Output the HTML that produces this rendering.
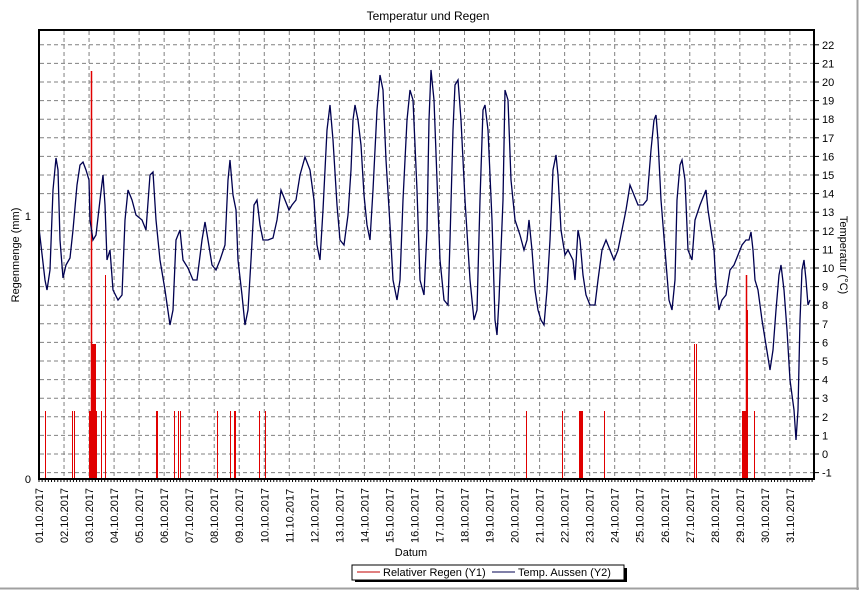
<!DOCTYPE html>
<html><head><meta charset="utf-8"><style>
body{margin:0;background:#fff;}
svg{display:block;font-family:"Liberation Sans",sans-serif;}
</style></head><body>
<svg width="859" height="590" viewBox="0 0 859 590" xmlns="http://www.w3.org/2000/svg">
<rect x="0" y="0" width="859" height="590" fill="#fff"/>
<line x1="0" y1="588.5" x2="859" y2="588.5" stroke="#a0a0a0" stroke-width="2"/>
<line x1="857.5" y1="0" x2="857.5" y2="590" stroke="#a0a0a0" stroke-width="2"/>
<text x="428" y="20" font-size="12" text-anchor="middle">Temperatur und Regen</text>
<g id="grid" stroke="#808080" stroke-dasharray="4,3" stroke-width="1"></g>
<g id="rain" stroke="#e00000"></g>
<polyline id="temp" fill="none" stroke="#000050" stroke-width="1.3"/>
<rect x="39" y="30" width="775" height="449" fill="none" stroke="#000" stroke-width="2"/>
<g id="ticks" font-size="11"></g>
<text transform="translate(19,255) rotate(-90)" font-size="11" text-anchor="middle">Regenmenge (mm)</text>
<text transform="translate(840,255) rotate(90)" font-size="11" text-anchor="middle">Temperatur (°C)</text>
<text x="411" y="556" font-size="11" text-anchor="middle">Datum</text>
<rect x="355" y="568" width="272" height="14" fill="#000"/>
<rect x="352" y="565" width="272" height="15" fill="#fff" stroke="#000"/>
<line x1="357" y1="572" x2="380" y2="572" stroke="#c00000"/>
<text x="383" y="576" font-size="11">Relativer Regen (Y1)</text>
<line x1="492" y1="572" x2="515" y2="572" stroke="#000050"/>
<text x="518" y="576" font-size="11">Temp. Aussen (Y2)</text>
</svg>
<script>
var NS="http://www.w3.org/2000/svg";
function el(p,t,a,txt){var e=document.createElementNS(NS,t);for(var k in a)e.setAttribute(k,a[k]);if(txt!=null)e.textContent=txt;document.getElementById(p).appendChild(e);}
for(var d=1;d<31;d++){var x=39+d*25.03;el("grid","line",{x1:x,y1:31,x2:x,y2:478});}
for(var t=-1;t<=22;t++){var y=454-t*18.6;if(y>31&&y<478)el("grid","line",{x1:40,y1:y,x2:813,y2:y});
el("ticks","line",{x1:814,y1:y,x2:819,y2:y,stroke:"#000"});
el("ticks","text",{x:822,y:y+4},t);}
el("ticks","text",{x:31,y:220,"text-anchor":"end"},"1");
el("ticks","text",{x:31,y:483,"text-anchor":"end"},"0");
for(var d=0;d<31;d++){var x=39+d*25.03;var s=(d+1<10?"0":"")+(d+1)+".10.2017";
el("ticks","text",{transform:"translate("+(x+4)+",543) rotate(-90)"},s);}
for(var x=39;x<814;x+=3.13)el("ticks","line",{x1:x,y1:479,x2:x,y2:482,stroke:"#000"});
var bars=[[45,411,1],[72,411,1],[74,411,1],[89,411,1],[90,411,1],[91,71,1.5],[92,344,1],[93,344,1],[94,344,1],[95,344,1],[96,411,1],[101,411,1],[105,275,1],[156,411,1],[157,411,1],[174,411,1],[178,411,1],[180,411,1],[217,411,1],[230,411,1],[234,411,1],[235,411,1],[259,411,1],[265,411,1],[526,411,1],[562,411,1],[579,411,1],[580,411,1],[581,411,1],[582,411,1],[604,411,1],[694,344,1],[696,344,1],[742,411,1],[743,411,1],[744,411,1],[745,411,1],[746,275,1.5],[747,310,1],[754,411,1]];
bars.forEach(function(b){el("rain","line",{x1:b[0]+.5,y1:b[1],x2:b[0]+.5,y2:479,"stroke-width":b[2]});});
var p=[39,228,45,280,47,290,50,270,53,190,56,158,58,170,60,240,63,278,66,265,70,258,73,230,77,185,80,165,83,162,86,170,89,180,90,220,93,240,96,235,100,200,103,175,105,205,107,260,110,250,113,290,118,300,122,295,125,220,128,190,132,200,136,215,142,220,146,230,150,175,153,172,156,220,160,260,165,290,170,325,173,310,176,240,180,230,183,260,188,268,193,280,197,280,202,240,205,222,208,240,212,265,216,270,220,260,225,245,228,180,230,160,233,195,236,210,238,260,242,295,245,325,248,310,251,260,254,205,257,200,260,225,263,240,268,240,273,238,277,220,281,190,285,200,289,210,292,205,296,200,300,175,305,157,310,170,314,200,317,245,320,260,323,210,327,130,330,105,333,140,337,205,340,240,344,245,348,215,351,170,353,120,355,105,358,120,361,145,364,195,367,225,370,240,373,190,377,110,380,75,383,90,386,160,390,225,393,280,397,300,400,280,403,200,407,120,410,90,413,100,417,190,420,280,424,295,427,230,429,120,431,70,434,100,437,180,440,260,444,300,448,305,450,240,453,130,455,85,458,80,461,120,465,200,470,280,474,320,477,310,480,200,483,110,485,105,488,130,492,220,495,320,497,335,499,300,503,200,505,90,508,100,511,180,515,220,520,235,524,250,527,240,529,220,532,250,535,290,538,310,541,320,544,325,547,290,550,240,553,170,556,155,558,175,561,230,565,255,568,250,573,260,575,280,578,230,580,240,583,275,586,295,590,305,595,305,598,280,602,250,606,240,610,250,614,260,618,250,622,230,626,210,630,185,634,195,638,205,643,205,647,200,651,150,654,120,656,115,658,140,661,200,665,250,669,300,672,310,675,280,677,200,680,165,682,160,685,180,688,250,692,260,695,220,700,205,704,195,706,190,708,210,711,230,714,250,716,285,719,310,722,300,726,295,730,270,734,265,738,255,742,245,746,240,749,240,751,232,753,250,755,280,758,290,762,320,766,345,770,370,773,350,776,310,779,275,781,265,784,290,787,330,790,380,794,410,796,440,798,410,800,320,802,270,804,260,806,280,808,305,810,300];
var s="";for(var i=0;i<p.length;i+=2)s+=p[i]+","+p[i+1]+" ";
document.getElementById("temp").setAttribute("points",s);
</script>
</body></html>
